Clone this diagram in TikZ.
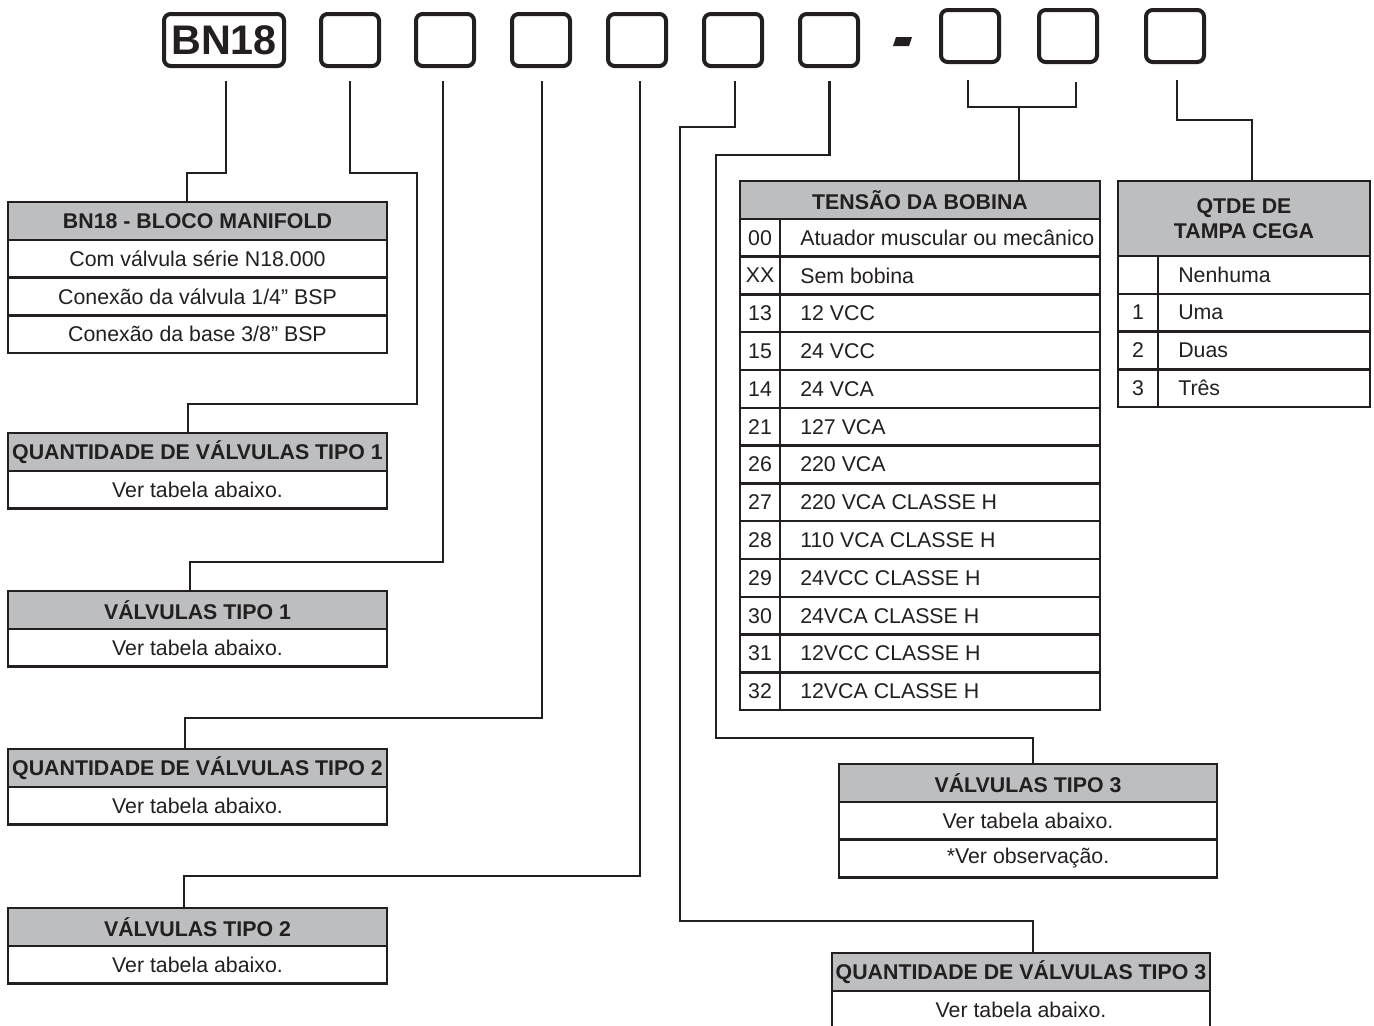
\documentclass[tikz,border=0pt]{standalone}
\usepackage{fontspec}
\setmainfont{Liberation Sans}
\definecolor{ink}{HTML}{231F20}
\definecolor{hdrgray}{HTML}{BCBEC0}
\begin{document}
\begin{tikzpicture}[x=0.75pt,y=-0.75pt,
  conn/.style={draw=ink,line width=1.9pt},
  topbox/.style={draw=ink,line width=3pt,rounded corners=5pt,minimum width=43.5pt,minimum height=39pt,inner sep=0pt,text=ink},
  hdr/.style={draw=ink,line width=1.9pt,fill=hdrgray,inner sep=0pt,align=center,font=\bfseries\fontsize{16}{18.5}\selectfont,text=ink},
  cell/.style={draw=ink,line width=1.9pt,fill=white,inner sep=0pt,font=\fontsize{16}{18}\selectfont,text=ink},
  lbl/.style={inner sep=0pt,font=\fontsize{16}{18}\selectfont,text=ink},
  lw/.style={minimum width=284.25pt,minimum height=28.35pt},
  rw/.style={minimum width=283.5pt,minimum height=28.35pt},
]
\useasboundingbox (0,0) rectangle (1374,1025);
\fill[white] (0,0) rectangle (1374,1025);

% ---------- top code boxes ----------
\node[topbox,minimum width=90pt,font=\bfseries\fontsize{31}{34}\selectfont] (b0) at (224,40) {BN18};
\node[topbox] (b1) at (350,40) {};
\node[topbox] (b2) at (445,40) {};
\node[topbox] (b3) at (541,40) {};
\node[topbox] (b4) at (637,40) {};
\node[topbox] (b5) at (733,40) {};
\node[topbox] (b6) at (829,40) {};
\node[topbox] (b7) at (970,36) {};
\node[topbox] (b8) at (1068,36) {};
\node[topbox] (b9) at (1175,36) {};
\fill[ink] (893,46) -- (896,37) -- (912,37) -- (909,46) -- cycle;

% ---------- connectors ----------
\draw[conn] ([xshift=1.5pt,yshift=-9.75pt]b0.south) |- (187,173) -- (187,173 |- 0,202);
\draw[conn] ([yshift=-9.75pt]b1.south) |- (417,173) |- (188,404) -- (188,433);
\draw[conn] ([xshift=-1.5pt,yshift=-9.75pt]b2.south) |- (190,562) -- (190,591);
\draw[conn] ([xshift=0.75pt,yshift=-9.75pt]b3.south) |- (185,718) -- (185,749);
\draw[conn] ([xshift=2.25pt,yshift=-9.75pt]b4.south) |- (184,876) -- (184,908);
\draw[conn] ([xshift=1.5pt,yshift=-9.75pt]b5.south) |- (680,127) |- (1033,921) -- (1033,953);
\draw[conn] ([xshift=0.4pt,yshift=-9.75pt]b6.south) |- (716,155) |- (1033,738) -- (1033,764);
\coordinate (br) at (1019,107);
\draw[conn] ([xshift=-1.5pt,yshift=-12pt]b7.south) |- (1076,107) -- ([xshift=6pt,yshift=-13.5pt]b8.south);
\draw[conn] (br) -- (1019,181);
\draw[conn] ([xshift=1.5pt,yshift=-12pt]b9.south) |- (1252,120) -- (1252,181);

% ---------- left boxes ----------
\node[hdr,lw] (m0) at (197.5,220.9) {BN18 - BLOCO MANIFOLD};
\node[cell,lw] (m1) at (197.5,258.7) {Com válvula série N18.000};
\node[cell,lw] (m2) at (197.5,296.5) {Conexão da válvula 1/4” BSP};
\node[cell,lw] (m3) at (197.5,334.3) {Conexão da base 3/8” BSP};

\node[hdr,lw] (q1h) at (197.5,451.9) {QUANTIDADE DE VÁLVULAS TIPO 1};
\node[cell,lw] (q1r) at (197.5,489.7) {Ver tabela abaixo.};

\node[hdr,lw] (v1h) at (197.5,609.9) {VÁLVULAS TIPO 1};
\node[cell,lw] (v1r) at (197.5,647.7) {Ver tabela abaixo.};

\node[hdr,lw] (q2h) at (197.5,767.9) {QUANTIDADE DE VÁLVULAS TIPO 2};
\node[cell,lw] (q2r) at (197.5,805.7) {Ver tabela abaixo.};

\node[hdr,lw] (v2h) at (197.5,926.9) {VÁLVULAS TIPO 2};
\node[cell,lw] (v2r) at (197.5,964.7) {Ver tabela abaixo.};

% ---------- right lower boxes ----------
\node[hdr,rw] (v3h) at (1028,782.9) {VÁLVULAS TIPO 3};
\node[cell,rw] (v3r) at (1028,820.7) {Ver tabela abaixo.};
\node[cell,rw] (v3s) at (1028,858.5) {*Ver observação.};

\node[hdr,rw] (q3h) at (1021,971.9) {QUANTIDADE DE VÁLVULAS TIPO 3};
\node[cell,rw] (q3r) at (1021,1009.7) {Ver tabela abaixo.};

% ---------- TENSAO DA BOBINA ----------
\node[hdr,minimum width=270pt,minimum height=28.35pt] (tnh) at (920,199.9) {TENSÃO DA BOBINA};
\foreach \n/\t [count=\i] in {00/Atuador muscular ou mecânico, XX/Sem bobina, 13/12 VCC, 15/24 VCC, 14/24 VCA, 21/127 VCA, 26/220 VCA, 27/220 VCA CLASSE H, 28/110 VCA CLASSE H, 29/24VCC CLASSE H, 30/24VCA CLASSE H, 31/12VCC CLASSE H, 32/12VCA CLASSE H}{
  \pgfmathsetmacro\yc{181+37.8*\i+18.9}
  \node[cell,minimum width=30pt,minimum height=28.35pt] (tn\i) at (760,\yc) {\n};
  \node[cell,minimum width=240pt,minimum height=28.35pt] (tt\i) at (940,\yc) {};
  \node[lbl,anchor=west] (tl\i) at (800,\yc) {\t};
}

% ---------- QTDE DE TAMPA CEGA ----------
\node[hdr,minimum width=189pt,minimum height=56.25pt] (qth) at (1244,218.5) {QTDE DE\\TAMPA CEGA};
\foreach \n/\t [count=\i] in {{}/Nenhuma, 1/Uma, 2/Duas, 3/Três}{
  \pgfmathsetmacro\yc{256+37.75*(\i-1)+18.9}
  \node[cell,minimum width=30pt,minimum height=28.3pt] (qn\i) at (1138,\yc) {\n};
  \node[cell,minimum width=159pt,minimum height=28.3pt] (qt\i) at (1264,\yc) {};
  \node[lbl,anchor=west] (ql\i) at (1178,\yc) {\t};
}
\end{tikzpicture}
\end{document}
